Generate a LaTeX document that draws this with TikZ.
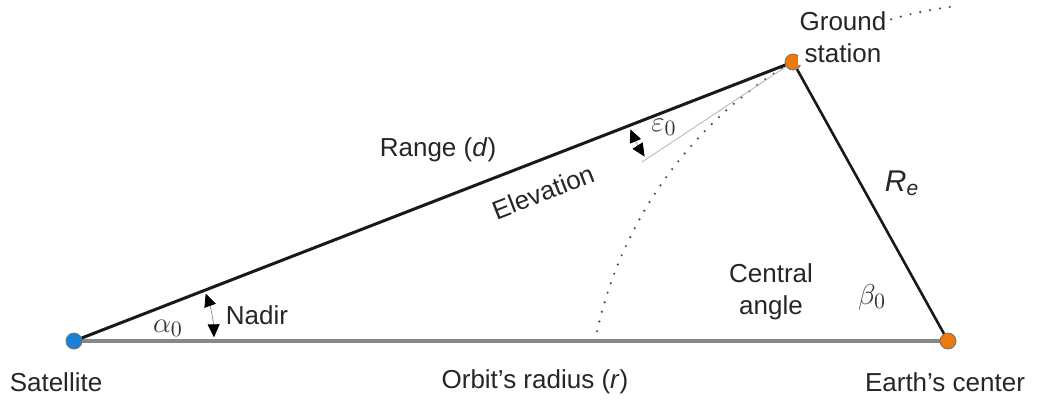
\documentclass[tikz,border=0pt]{standalone}
\usepackage{fontspec}
\setmainfont{Liberation Sans}
\usetikzlibrary{arrows.meta}
\definecolor{satBlue}{RGB}{25,130,215}
\definecolor{stationOrange}{RGB}{238,122,12}
\definecolor{orbitGray}{RGB}{135,135,135}
\tikzset{
  lbl/.style={font=\fontsize{13}{16}\selectfont, text=black!85, inner sep=1pt},
  greek/.style={font=\fontsize{15}{17}\selectfont, text=black!80, inner sep=1pt},
  dotmark/.style={circle, draw=black!55, line width=0.4pt, minimum size=8pt, inner sep=0pt},
  anglearrow/.style={draw=black!40, line width=0.4pt,
    {Triangle[length=6.5pt,width=6pt,color=black]}-{Triangle[length=6.5pt,width=6pt,color=black]}}
}

\begin{document}
\begin{tikzpicture}[x=0.5pt,y=0.5pt]
  \useasboundingbox (0,0) rectangle (1037,404);
  \coordinate (sat) at (74,63);
  \coordinate (earth) at (948,63);
  \coordinate (gs) at (793,342);
  \coordinate (tan) at (642,242);
  % earth surface
  \draw[black!70, line width=1.2pt, line cap=round, dash pattern=on 0pt off 5pt] (595,63) arc[start angle=168.8, end angle=97, radius=419.3];
  % triangle
  \draw[orbitGray, line width=2pt] (sat) -- (earth);
  \draw[black!90, line width=1.5pt] (sat) -- (gs);
  \draw[black!90, line width=1.3pt] (gs) -- (earth);
  \draw[black!30, line width=0.4pt] (gs) -- (tan);
  % angles
  \draw[anglearrow] (sat) ++(1.5:140) arc[start angle=1.5, end angle=19.8, radius=140];
  \draw[anglearrow] (gs) ++(202.5:176) arc[start angle=202.5, end angle=212.5, radius=176];
  % points
  \node[dotmark, fill=satBlue] (satdot) at (sat) {};
  \node[dotmark, fill=stationOrange] (gsdot) at (gs) {};
  \node[dotmark, fill=stationOrange] (earthdot) at (earth) {};
  % labels
  \node[lbl] (satlbl) at (56,22) {Satellite};
  \node[lbl] (radiuslbl) at (535,22) {Orbit's radius (\textit{r})};
  \node[lbl] (earthlbl) at (945,22) {Earth's center};
  \node[lbl] (rangelbl) at (438,254) {Range (\textit{d})};
  \node[lbl, rotate=21.2] (elevlbl) at (543,212) {Elevation};
  \node[lbl, fill=white, align=center] (gslbl) at (843,367) {Ground\\station};
  \node[lbl, align=center] (centrallbl) at (771,112) {Central\\angle};
  \node[lbl] (nadirlbl) at (257,89) {Nadir};
  \node[greek] (alphalbl) at (168,76) {$\alpha_0$};
  \node[greek] (epslbl) at (664,277) {$\varepsilon_0$};
  \node[greek] (betalbl) at (872,107) {$\beta_0$};
  \node[font=\fontsize{15}{17}\selectfont, text=black!85, inner sep=1pt] (relbl) at (902,221) {\textit{R\textsubscript{e}}};
\end{tikzpicture}
\end{document}
